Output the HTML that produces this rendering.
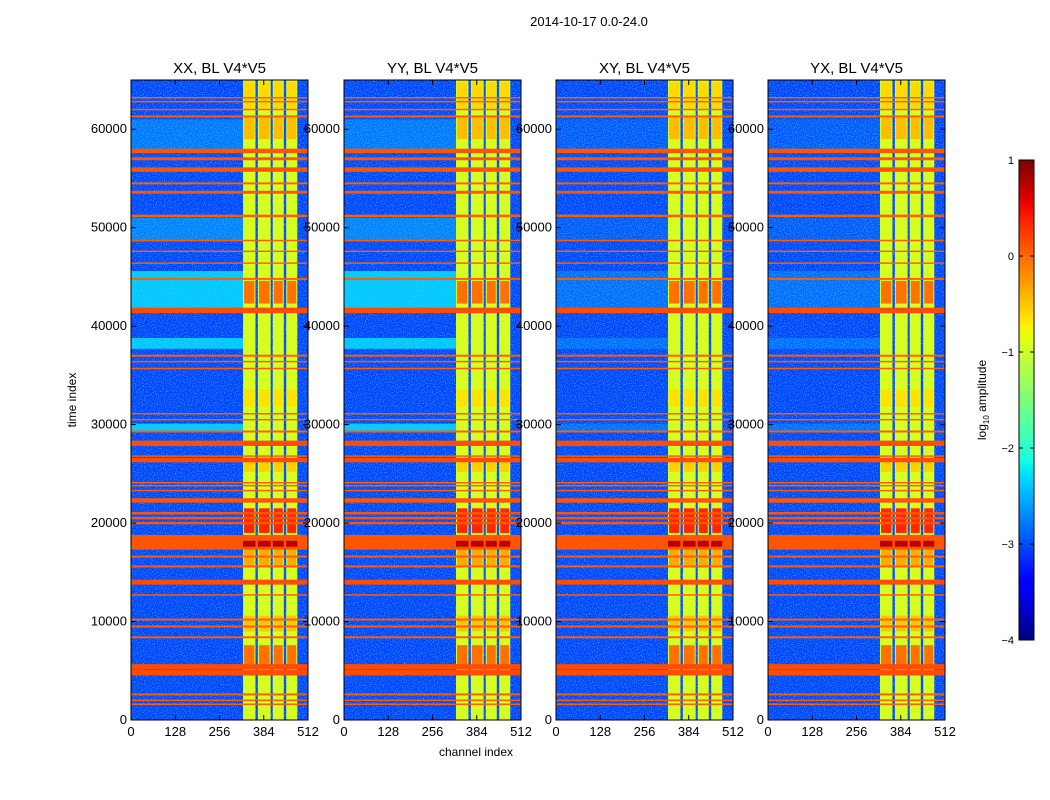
<!DOCTYPE html>
<html><head><meta charset="utf-8"><style>
html,body{margin:0;padding:0;background:#fff;}
svg{display:block;font-family:"Liberation Sans","DejaVu Sans",sans-serif;}
</style></head><body>
<svg id="fig" width="1050" height="800" viewBox="0 0 1050 800" xmlns="http://www.w3.org/2000/svg">
<defs>
<filter id="speck" x="0" y="0" width="1" height="1">
<feTurbulence type="fractalNoise" baseFrequency="0.9" numOctaves="1" seed="3" result="n"/>
<feColorMatrix in="n" type="matrix" values="0 0 0 0 0.1  0 0 0 0 0.7  0 0 0 0 1  0 0 0 3.2 -1.5"/>
</filter>
<linearGradient id="cbgrad" x1="0" y1="1" x2="0" y2="0"></linearGradient>
</defs>
<text x="589" y="26" font-size="13" text-anchor="middle">2014-10-17 0.0-24.0</text>
<text x="476" y="756" font-size="12" text-anchor="middle">channel index</text>
<text transform="translate(76,400) rotate(-90)" font-size="12" text-anchor="middle">time index</text>
<g id="panels"></g>
<g id="cbar"></g>
</svg>
<script>
// ---- data ----
const panelTitles = ["XX, BL V4*V5","YY, BL V4*V5","XY, BL V4*V5","YX, BL V4*V5"];
const channelTicks = [0,128,256,384,512];
const timeTicks = [0,10000,20000,30000,40000,50000,60000];
const colorTicks = [1,0,-1,-2,-3,-4];
const backgroundLevel = -3.05;
// bright channel columns [startCh, endCh]
const brightCols = [[324,360],[367,404],[410,442],[449,481]];
const columnLevel = -0.95;
// elevated bands [t0, t1, level] over low channels
const cyanBands = [[41800,45600,-2.4],[37700,38800,-2.4],[29300,30100,-2.4],[48600,51000,-2.75],[57900,61000,-2.8]];
// hot patches within columns [t0, t1, level]
const hotPatches = [[59000,61200,-0.45],[42300,44600,-0.05],[19000,21500,0.35],[15500,17300,-0.35],[5600,7600,-0.05],[31800,33600,-0.65],[25200,26200,-0.55],[9000,10600,-0.5],[62000,64800,-0.6]];
// flagged rows [time, widthInTime, level]
const flagRows = [[63200,150,0.05],[62800,150,0.05],[62000,150,0.05],[61300,200,0.05],[57800,450,0.1],[57000,300,0.1],[55900,450,0.1],[54500,200,0.05],[53600,300,0.1],[51200,250,0.05],[48700,150,0.05],[47600,150,0.05],[46400,150,0.05],[44800,200,0.05],[41600,550,0.15],[37000,200,0.05],[36400,150,0.05],[35700,150,0.05],[31100,150,0.05],[30500,150,0.05],[29300,200,0.05],[28100,550,0.15],[26800,150,0.05],[26400,450,0.15],[24100,150,0.05],[23800,150,0.05],[23300,150,0.05],[22300,450,0.1],[21000,250,0.1],[20500,250,0.1],[20000,250,0.1],[16600,200,0.05],[15600,200,0.05],[14000,500,0.15],[12700,150,0.05],[10200,200,0.05],[9500,200,0.05],[8400,200,0.05],[5400,550,0.15],[4800,550,0.15],[2600,200,0.05],[2000,150,0.05],[1600,150,0.05]];
// broadband RFI band [t0, t1, level], and its saturated core in columns
const bigBand = [17300,18800,0.1];
const bigCore = [17600,18200,0.75];

// ---- geometry ----
const panelX = [131,344,556,768], PW = 177, PT = 80, PB = 720, TMAX = 65000, CHMAX = 512;
const NS = "http://www.w3.org/2000/svg";
function mk(tag, attrs, parent){const e=document.createElementNS(NS,tag);for(const k in attrs)e.setAttribute(k,attrs[k]);parent.appendChild(e);return e;}
function seg(pts,x){for(let i=1;i<pts.length;i++){if(x<=pts[i][0]){const a=pts[i-1],b=pts[i];return a[1]+(b[1]-a[1])*(x-a[0])/(b[0]-a[0]);}}return pts[pts.length-1][1];}
const JR=[[0,0],[0.35,0],[0.66,1],[0.89,1],[1,0.5]];
const JG=[[0,0],[0.125,0],[0.375,1],[0.64,1],[0.91,0],[1,0]];
const JB=[[0,0.5],[0.11,1],[0.34,1],[0.65,0],[1,0]];
function jet(v){
  let x=(v+4)/5; x=Math.max(0,Math.min(1,x));
  const r=seg(JR,x),g=seg(JG,x),b=seg(JB,x);
  return `rgb(${Math.round(r*255)},${Math.round(g*255)},${Math.round(b*255)})`;
}
const panels = document.getElementById('panels');
panelX.forEach((x0,pi)=>{
  const xs = ch => x0 + ch/CHMAX*PW;
  const ys = t => PB - t/TMAX*(PB-PT);
  const g = mk('g',{},panels);
  
  
  const bg = mk('rect',{x:x0,y:PT,width:PW,height:PB-PT,fill:jet(backgroundLevel)},g);
  
  
  cyanBands.forEach(b=>{
    const lv = (pi>=2) ? Math.max(b[2]-0.45, -2.95) : b[2];
    const r = mk('rect',{x:xs(0),y:ys(b[1]),width:xs(330)-xs(0),height:ys(b[0])-ys(b[1]),fill:jet(lv)},g);
    
    
  });
  const sp = mk('rect',{x:x0,y:PT,width:PW,height:PB-PT,fill:'#fff',filter:'url(#speck)',opacity:0.6},g);
  
  
  brightCols.forEach(c=>{
    const r = mk('rect',{x:xs(c[0]),y:PT,width:xs(c[1])-xs(c[0]),height:PB-PT,fill:jet(columnLevel)},g);
    
    
    hotPatches.forEach(h=>{
      const p = mk('rect',{x:xs(c[0]+3),y:ys(h[1]),width:xs(c[1]-3)-xs(c[0]+3),height:ys(h[0])-ys(h[1]),fill:jet(h[2])},g);
      
      
    });
  });
  flagRows.forEach(f=>{
    const r = mk('rect',{x:x0,y:ys(f[0]+f[1]/2),width:PW,height:Math.max(1,ys(f[0]-f[1]/2)-ys(f[0]+f[1]/2)),fill:jet(f[2])},g);
    
    
  });
  const bb = mk('rect',{x:x0,y:ys(bigBand[1]),width:PW,height:ys(bigBand[0])-ys(bigBand[1]),fill:jet(bigBand[2])},g);
  
  
  brightCols.forEach(c=>{
    const r = mk('rect',{x:xs(c[0]),y:ys(bigCore[1]),width:xs(c[1])-xs(c[0]),height:ys(bigCore[0])-ys(bigCore[1]),fill:jet(bigCore[2])},g);
    
    
  });
  const fr = mk('rect',{x:x0,y:PT,width:PW,height:PB-PT,fill:'none',stroke:'#000','stroke-width':1},g);
  
  
  const tt = mk('text',{x:x0+PW/2,y:73,'font-size':15,'text-anchor':'middle'},g);
  tt.textContent = panelTitles[pi];
  
  
  channelTicks.forEach(c=>{
    mk('line',{x1:xs(c),x2:xs(c),y1:PB,y2:PB-5,stroke:'#000'},g);
    mk('line',{x1:xs(c),x2:xs(c),y1:PT,y2:PT+5,stroke:'#000'},g);
    const t = mk('text',{x:xs(c),y:PB+16,'font-size':13,'text-anchor':'middle'},g);
    t.textContent = c;
    
    
  });
  timeTicks.forEach(v=>{
    mk('line',{x1:x0,x2:x0+5,y1:ys(v),y2:ys(v),stroke:'#000'},g);
    mk('line',{x1:x0+PW,x2:x0+PW-5,y1:ys(v),y2:ys(v),stroke:'#000'},g);
    const t = mk('text',{x:x0-4,y:ys(v)+4,'font-size':13,'text-anchor':'end'},g);
    t.textContent = v;
    
    
  });
});
// colorbar
const cb = document.getElementById('cbar');
const grad = document.getElementById('cbgrad');
for(let i=0;i<=40;i++){const v=-4+i*0.125;mk('stop',{offset:(i/40),'stop-color':jet(v)},grad);}
const CX=1019, CW=15, CT=160, CB=640;
const cy = v => CB - (v+4)/5*(CB-CT);
mk('rect',{x:CX,y:CT,width:CW,height:CB-CT,fill:'url(#cbgrad)',stroke:'#000'},cb);
colorTicks.forEach(v=>{
  mk('line',{x1:CX,x2:CX+4,y1:cy(v),y2:cy(v),stroke:'#000'},cb);
  mk('line',{x1:CX+CW,x2:CX+CW-4,y1:cy(v),y2:cy(v),stroke:'#000'},cb);
  const t = mk('text',{x:CX-5,y:cy(v)+4,'font-size':11,'text-anchor':'end'},cb);
  t.textContent = v<0 ? '\u2212'+(-v) : String(v);
  
  
});
const cl = mk('text',{transform:'translate(986,400) rotate(-90)','font-size':12,'text-anchor':'middle'},cb);
cl.innerHTML = 'log<tspan font-size="8" dy="3">10</tspan><tspan dy="-3"> amplitude</tspan>';


</script>
</body></html>
